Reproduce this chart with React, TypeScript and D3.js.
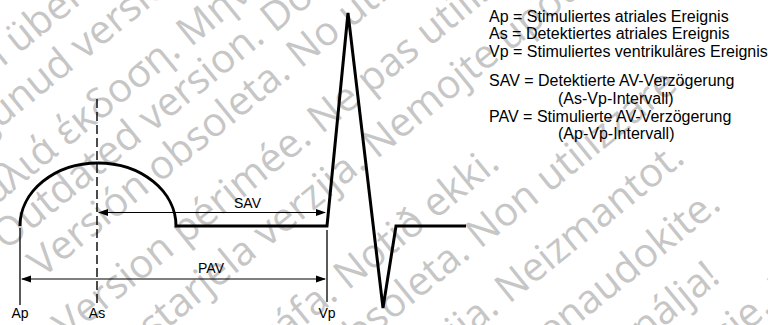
import React from "react";
import * as d3 from "d3";

const W = 768;
const H = 325;

// ---- diagram data (time units along x, amplitude units along y) ----
const eventNames = ["Ap", "As", "Vp"];
const eventTimes = [0, 77, 307];
const eventLineTop = [-2, 127, -4];
const eventLineBottom = [-79, -79, -76];
const eventDashed = [false, true, false];

// P-wave (semi-ellipse) start, end and height
const pWaveStart = 0;
const pWaveEnd = 156;
const pWaveHeight = 63;

// remaining waveform vertices after the P-wave
const waveTimes = [156, 307, 328, 363, 376, 446];
const waveAmps = [0, 0, 213, -82, 0, 0];

// interval arrows
const intervalNames = ["SAV", "PAV"];
const intervalFrom = [77, 0];
const intervalTo = [307, 307];
const intervalLevel = [13.5, -53];
const intervalLabelT = [227.5, 191];
const intervalLabelA = [18, -47];

// legend
const legendLines = [
  "Ap = Stimuliertes atriales Ereignis",
  "As = Detektiertes atriales Ereignis",
  "Vp = Stimuliertes ventrikuläres Ereignis",
  "SAV = Detektierte AV-Verzögerung",
  "(As-Vp-Intervall)",
  "PAV = Stimulierte AV-Verzögerung",
  "(Ap-Vp-Intervall)",
];
const legendBaselines = [21.5, 39.3, 57.1, 86, 103.8, 121.6, 139.4];
const legendIndent = [0, 0, 0, 0, 1, 0, 1];

// ---- watermark ----
const wmText = [
  "Version überholt. Nicht verwenden.",
  "Aegunud versioon. Ärge kasutage.",
  "Παλιά έκδοση. Μην την χρησιμοποιείτε.",
  "Outdated version. Do not use.",
  "Versión obsoleta. No utilizar.",
  "Version périmée. Ne pas utiliser.",
  "Zastarjela verzija. Nemojte upotrebljavati.",
  "Úrelt útgáfa. Notið ekki.",
  "Versione obsoleta. Non utilizzare.",
  "Novecojusi versija. Neizmantot.",
  "Pasenusi versija. Nenaudokite.",
  "Elavult verzió. Ne használja!",
  "Dit is een verouderde versie. Niet gebruiken.",
];
const wmAnchor = [
  "überholt", "versioon", "έκδοση", "Do", "No", "Ne", "Nemojte",
  "Notið", "Non", "Neizmantot", "naudokite", "!", "ie. Niet",
];
const wmAlong = [-20, 27, -40, 192, 190, 165, 192, 87, 216, 204, 233, 374, 363];
const wmAcross = [54, 100, 157, 199, 243, 307, 361, 445, 496, 557, 616, 672, 728];
const WM_ANGLE = 39;

const FONT = "'Liberation Sans', Arial, Helvetica, sans-serif";
const WM_FAMILY = "'Open Sans', sans-serif";

export default function App() {
  const x = d3.scaleLinear().domain([0, 446]).range([20, 466]);
  const y = d3.scaleLinear().domain([0, 213]).range([226, 13]);

  // P wave as elliptical arc
  const rx = (x(pWaveEnd) - x(pWaveStart)) / 2;
  const ry = y(0) - y(pWaveHeight);
  const line = d3
    .line<number>()
    .x((_, i) => x(waveTimes[i]))
    .y((_, i) => y(waveAmps[i]));
  const rest = line(waveTimes) || "";
  const pPath = `M${x(pWaveStart)},${y(0)} A${rx},${ry} 0 0 1 ${x(pWaveEnd)},${y(0)}`;
  const wavePath = pPath + " L" + rest.slice(1);

  const headLen = 10;
  const headHalf = 3.5;

  return (
    <svg
      width={W}
      height={H}
      viewBox={`0 0 ${W} ${H}`}
      style={{ position: "absolute", left: 0, top: 0, background: "#fff" }}
    >
      <rect x={0} y={0} width={W} height={H} fill="#fff" />
      <g
        fill="#c6c6c6"
        fontFamily={WM_FAMILY}
        fontSize={40}
        transform={`rotate(${-WM_ANGLE})`}
      >
        {wmText.map((t, i) => {
          const idx = Math.max(0, t.indexOf(wmAnchor[i]));
          const pre = t.slice(0, idx);
          const post = t.slice(idx);
          return (
            <g key={i}>
              {pre ? (
                <text
                  x={wmAlong[i]}
                  y={wmAcross[i]}
                  textAnchor="end"
                  style={{ whiteSpace: "pre" }}
                >
                  {pre}
                </text>
              ) : null}
              <text x={wmAlong[i]} y={wmAcross[i]} style={{ whiteSpace: "pre" }}>
                {post}
              </text>
            </g>
          );
        })}
      </g>

      {/* event marker lines */}
      {eventTimes.map((t, i) => (
        <line
          key={"ev" + i}
          x1={x(t)}
          x2={x(t)}
          y1={y(eventLineTop[i])}
          y2={y(eventLineBottom[i])}
          stroke="#000"
          strokeWidth={eventDashed[i] ? 1.4 : 1.3}
          strokeDasharray={eventDashed[i] ? "9,4" : undefined}
        />
      ))}

      {/* waveform */}
      <path
        d={wavePath}
        fill="none"
        stroke="#000"
        strokeWidth={3}
        strokeLinejoin="miter"
      />

      {/* interval arrows */}
      {intervalNames.map((n, i) => {
        const x1 = x(intervalFrom[i]);
        const x2 = x(intervalTo[i]);
        const yy = y(intervalLevel[i]);
        return (
          <g key={n}>
            <line x1={x1 + 2} x2={x2 - 2} y1={yy} y2={yy} stroke="#000" strokeWidth={1.2} />
            <path
              d={`M${x1 + 1},${yy} L${x1 + 1 + headLen},${yy - headHalf} L${x1 + 1 + headLen},${yy + headHalf} Z`}
              fill="#000"
            />
            <path
              d={`M${x2 - 1},${yy} L${x2 - 1 - headLen},${yy - headHalf} L${x2 - 1 - headLen},${yy + headHalf} Z`}
              fill="#000"
            />
            <text
              x={x(intervalLabelT[i])}
              y={y(intervalLabelA[i])}
              textAnchor="middle"
              fontFamily={FONT}
              fontSize={14}
              fill="#000"
            >
              {n}
            </text>
          </g>
        );
      })}

      {/* event labels */}
      {eventNames.map((n, i) => (
        <text
          key={n}
          x={x(eventTimes[i])}
          y={y(-92)}
          textAnchor="middle"
          fontFamily={FONT}
          fontSize={14}
          fill="#000"
        >
          {n}
        </text>
      ))}

      {/* legend */}
      <g fontFamily={FONT} fontSize={16} fill="#000">
        {legendLines.map((l, i) => (
          <text key={i} x={489 + legendIndent[i] * 69} y={legendBaselines[i]}>
            {l}
          </text>
        ))}
      </g>
    </svg>
  );
}
